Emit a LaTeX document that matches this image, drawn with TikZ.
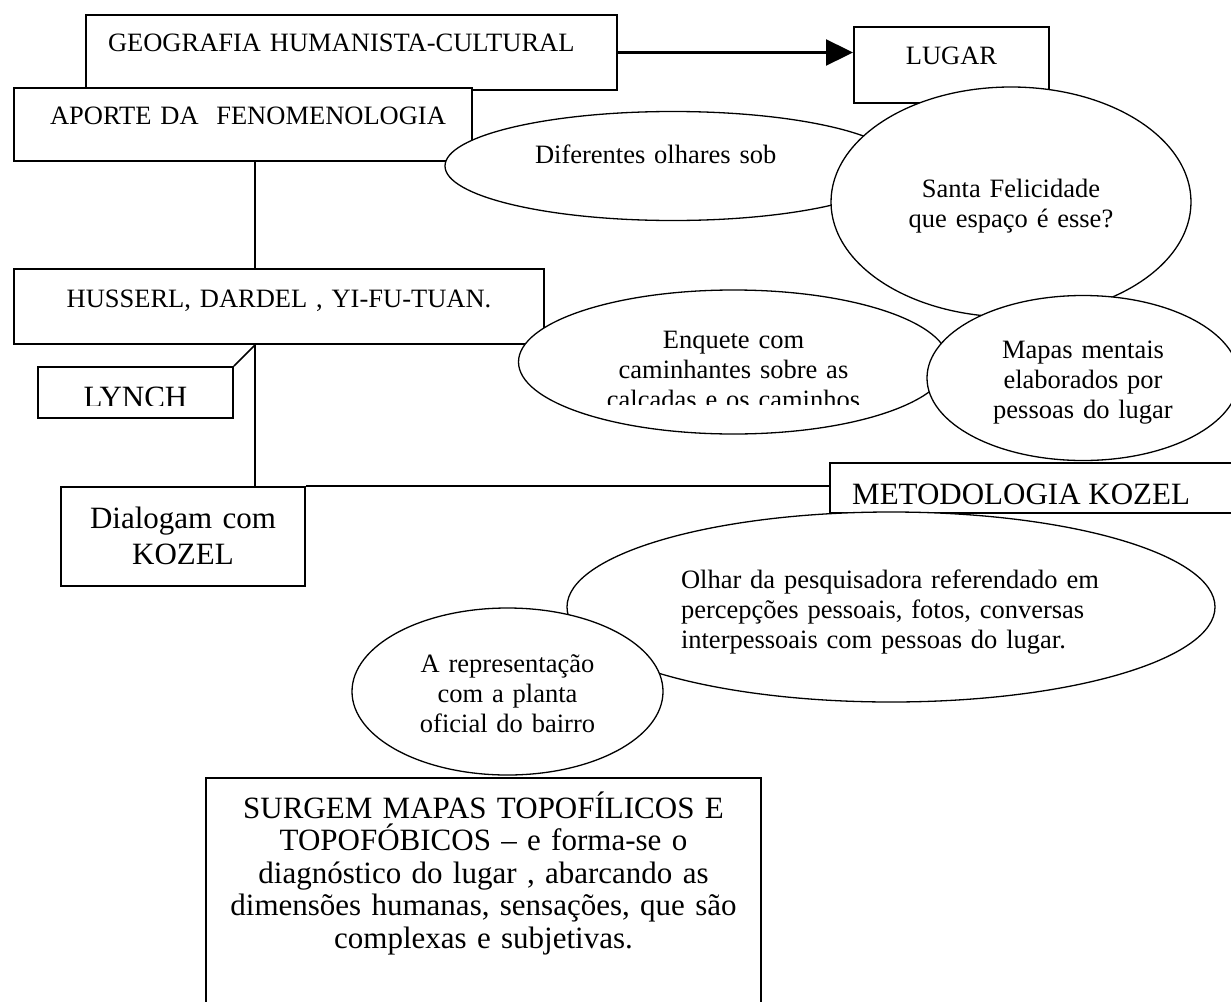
\documentclass[tikz,border=0pt]{standalone}
\usepackage{fontspec}
\setmainfont{Liberation Serif}
\usetikzlibrary{shapes.geometric, arrows.meta}

\newcommand{\letrapeq}{\fontsize{26.5pt}{30pt}\selectfont}
\newcommand{\letragrande}{\fontsize{31pt}{32.5pt}\selectfont}

\begin{document}
\begin{tikzpicture}[x=1pt, y=-1pt,
    caixa/.style={draw, line width=2pt, fill=white, anchor=north west, inner sep=0pt, align=center, font=\letrapeq},
    balao/.style={draw, ellipse, line width=1.3pt, fill=white, inner sep=0pt, align=center, font=\letrapeq},
    linha/.style={line width=1.5pt},
    seta/.style={line width=2.3pt, -{Triangle[length=27pt, width=26pt]}}]
  \useasboundingbox (0,0) rectangle (1231,1001);

  % Geografia e fenomenologia
  \node[caixa, text width=487pt, inner xsep=22pt, align=left, text height=36pt, text depth=39pt] (geo) at (85,14) {GEOGRAFIA HUMANISTA-CULTURAL};
  \node[caixa, text width=406pt, inner xsep=26pt, align=right, text height=36pt, text depth=37pt] (aporte) at (13,87) {APORTE DA\ \ FENOMENOLOGIA};

  % Lugar
  \node[caixa, text width=195pt, text height=37pt, text depth=39pt] (lugar) at (853,26) {LUGAR};
  \draw[seta] (geo.east) -- (geo.east -| lugar.west);

  % Baloes de cima
  \node[balao, minimum width=456pt, minimum height=109pt, text width=276pt, align=left, text height=12pt, text depth=18pt] (olhares) at (673,166) {Diferentes olhares sob};
  \node[balao, minimum width=360pt, minimum height=230pt, text width=220pt, text height=20pt, text depth=30pt] (santa) at (1011,202) {Santa Felicidade\\que espaço é esse?};

  % Autores
  \node[caixa, text width=530pt, text height=38pt, text depth=37pt] (husserl) at (13,268) {HUSSERL, DARDEL , YI-FU-TUAN.};
  \coordinate (tronco) at (255,0);
  \draw[linha] (aporte.south -| tronco) -- (husserl.north -| tronco);

  % Enquete e mapas mentais
  \node[balao, minimum width=430pt, minimum height=144pt] (enquete) at (733.5,362) {};
  \begin{scope}
    \clip (enquete.north -| enquete.west) rectangle ([yshift=-42pt]enquete.east);
    \node[font=\letrapeq, text width=260pt, align=center, anchor=base] (enquete-txt) at ([yshift=14pt]enquete.center) {Enquete com\\caminhantes sobre as\\calçadas e os caminhos};
  \end{scope}
  \node[balao, minimum width=312pt, minimum height=165pt, text width=200pt, text height=20pt, text depth=60pt] (mapas) at (1083,378) {Mapas mentais\\elaborados por\\pessoas do lugar};

  % Lynch
  \node[caixa, text width=195pt, text height=41pt, text depth=10pt] (lynch) at (37,366) {};
  \begin{scope}
    \clip (lynch.north west) rectangle ([yshift=-39pt]lynch.north east);
    \node[font=\letragrande, anchor=base] (lynch-txt) at ([yshift=-41pt]lynch.north) {LYNCH};
  \end{scope}
  \draw[linha] (lynch.north east) -- (husserl.south -| tronco);

  % Kozel
  \node[caixa, font={\fontsize{31pt}{36.5pt}\selectfont}, text width=244pt, text height=41pt, text depth=58pt] (dialogam) at (60,486) {Dialogam com\\KOZEL};
  \draw[linha] (husserl.south -| tronco) -- (dialogam.north -| tronco);

  \node[caixa, text width=400pt, inner xsep=23pt, text height=42pt, text depth=8pt] (metodo) at (829,462) {};
  \begin{scope}
    \clip (metodo.north west) rectangle ([yshift=10pt]metodo.south east);
    \node[font=\letragrande, anchor=base west, inner sep=0pt] (metodo-txt) at ([xshift=23pt, yshift=-42pt]metodo.north west) {METODOLOGIA KOZEL};
  \end{scope}
  \draw[linha] (dialogam.north east) -- (dialogam.north east -| metodo.west);

  % Olhar e representacao
  \node[balao, minimum width=648pt, minimum height=190pt, text width=420pt, align=left, text height=20pt, text depth=58pt] (olhar) at (891,607) {Olhar da pesquisadora referendado em\\percepções pessoais, fotos, conversas\\interpessoais com pessoas do lugar.};
  \node[balao, minimum width=311pt, minimum height=167pt, text width=190pt, text height=20pt, text depth=59pt] (planta) at (507.5,691.5) {A representação\\com a planta\\oficial do bairro};

  % Mapas topofilicos
  \node[caixa, font=\letragrande, text width=555pt, text height=40pt, text depth=193pt] (surgem) at (205,777) {SURGEM MAPAS TOPOFÍLICOS E\\TOPOFÓBICOS – e forma-se o\\diagnóstico do lugar , abarcando as\\dimensões humanas, sensações, que são\\complexas e subjetivas.};
\end{tikzpicture}
\end{document}
